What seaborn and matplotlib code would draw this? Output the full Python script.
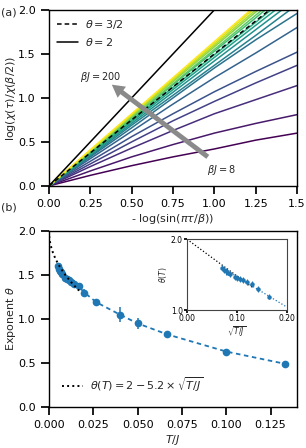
import numpy as np
import pandas as pd
import matplotlib
matplotlib.use("Agg")
import matplotlib.pyplot as plt
import seaborn as sns

# ---------------- data ----------------
# panel (a): curves read at these x positions
x_grid = [0.0, 0.25, 0.5, 0.75, 1.0, 1.25, 1.5]
chi_curves = [
    [0, 0.12, 0.23, 0.33, 0.42, 0.52, 0.60],
    [0, 0.17, 0.33, 0.47, 0.60, 0.71, 0.81],
    [0, 0.22, 0.43, 0.63, 0.82, 0.98, 1.14],
    [0, 0.25, 0.50, 0.74, 0.96, 1.17, 1.37],
    [0, 0.28, 0.56, 0.82, 1.07, 1.30, 1.52],
    [0, 0.31, 0.62, 0.93, 1.23, 1.51, 1.80],
    [0, 0.33, 0.66, 1.00, 1.34, 1.66, 1.96],
    [0, 0.34, 0.69, 1.03, 1.37, 1.71, 2.06],
    [0, 0.355, 0.71, 1.065, 1.42, 1.775, 2.13],
    [0, 0.365, 0.73, 1.095, 1.46, 1.825, 2.19],
    [0, 0.37, 0.745, 1.12, 1.49, 1.86, 2.24],
    [0, 0.38, 0.765, 1.15, 1.53, 1.91, 2.30],
    [0, 0.39, 0.775, 1.16, 1.55, 1.94, 2.33],
    [0, 0.395, 0.79, 1.185, 1.58, 1.975, 2.37],
    [0, 0.40, 0.80, 1.20, 1.60, 2.00, 2.40],
    [0, 0.405, 0.81, 1.215, 1.62, 2.03, 2.43],
    [0, 0.41, 0.82, 1.23, 1.64, 2.05, 2.46],
]
theta_refs = [1.5, 2.0]
theta_ref_labels = [r"$\theta = 3/2$", r"$\theta = 2$"]

# panel (b)
T_over_J = [0.0050, 0.0055, 0.0062, 0.0067, 0.0075, 0.0091, 0.0100, 0.0111,
            0.0125, 0.0143, 0.0167, 0.0200, 0.0267, 0.0400, 0.0500, 0.0667,
            0.1000, 0.1333]
theta_vals = [1.60, 1.57, 1.55, 1.53, 1.51, 1.47, 1.45, 1.44,
              1.42, 1.40, 1.37, 1.30, 1.19, 1.05, 0.95, 0.825,
              0.63, 0.49]
theta_err = [0.04, 0.04, 0.05, 0.04, 0.04, 0.04, 0.04, 0.04,
             0.04, 0.04, 0.04, 0.04, 0.04, 0.09, 0.06, 0.02,
             0.02, 0.01]
fit_a, fit_b = 2.0, 5.2
fit_T_max = 0.017
n_inset = 13
inset_trend_s = [0.07, 0.20]
inset_trend_theta = [1.60, 1.04]

# ---------------- style ----------------
sns.set_theme(style="ticks")
plt.rcParams["font.family"] = ["DejaVu Sans"]
plt.rcParams.update({
    "font.size": 8, "axes.labelsize": 8, "xtick.labelsize": 8,
    "ytick.labelsize": 8, "legend.fontsize": 8,
    "mathtext.fontset": "dejavusans",
    "axes.edgecolor": "black", "xtick.color": "black", "ytick.color": "black",
    "axes.linewidth": 1.0,
})
blue = "#1f77b4"

fig = plt.figure(figsize=(3.06, 4.48), dpi=100)
ax1 = fig.add_axes([0.160, 0.585, 0.811, 0.393])
ax2 = fig.add_axes([0.160, 0.0915, 0.811, 0.393])

# ---------------- panel (a) ----------------
rows = []
for i, c in enumerate(chi_curves):
    for xv, yv in zip(x_grid, c):
        rows.append({"x": xv, "y": yv, "curve": i})
df_a = pd.DataFrame(rows)
sns.lineplot(data=df_a, x="x", y="y", hue="curve", palette="viridis",
             estimator=None, sort=False, legend=False, lw=1.1, ax=ax1)

xr = np.array([0.0, 1.5])
ax1.plot(xr, theta_refs[0] * xr, color="black", ls="--", dashes=(3, 2),
         lw=1.1, label=theta_ref_labels[0], zorder=5)
ax1.plot(xr, theta_refs[1] * xr, color="black", ls="-", lw=1.1,
         label=theta_ref_labels[1], zorder=5)
ax1.legend(loc="upper left", frameon=False, handlelength=1.9,
           handletextpad=0.6, borderaxespad=0.3)

ax1.annotate("", xy=(0.38, 1.15), xytext=(0.96, 0.33),
             arrowprops=dict(facecolor="#8a8a8a", edgecolor="none",
                             width=3.5, headwidth=10, headlength=9),
             zorder=6)
ax1.text(0.31, 1.24, r"$\beta J = 200$", ha="center", va="center",
         fontsize=7)
ax1.text(1.04, 0.18, r"$\beta J = 8$", ha="center", va="center", fontsize=7)

ax1.set_xlim(0, 1.5)
ax1.set_ylim(0, 2.0)
ax1.set_xticks([0, 0.25, 0.5, 0.75, 1.0, 1.25, 1.5])
ax1.set_xticklabels(["0.00", "0.25", "0.50", "0.75", "1.00", "1.25", "1.5"])
ax1.set_yticks([0, 0.5, 1.0, 1.5, 2.0])
ax1.set_xlabel(r"- log(sin($\pi\tau/\beta$))", labelpad=2)
ax1.set_ylabel(r"log($\chi(\tau)/\chi(\beta/2)$)")
ax1.yaxis.set_label_coords(-0.125, 0.5)

# ---------------- panel (b) ----------------
sns.lineplot(x=T_over_J, y=theta_vals, ax=ax2, color=blue, lw=1.3,
             linestyle="--", dashes=False)
ax2.lines[-1].set_dashes((2.5, 2))
ax2.errorbar(T_over_J, theta_vals, yerr=theta_err, fmt="o", color=blue,
             ms=4.5, elinewidth=1.1, capsize=0, zorder=4)
T_fit = np.linspace(0, fit_T_max, 200)
ax2.plot(T_fit, fit_a - fit_b * np.sqrt(T_fit), color="black", ls=":",
         lw=1.4, label=r"$\theta(T) = 2 - 5.2 \times \sqrt{T/J}$", zorder=5)
ax2.legend(loc="lower left", frameon=False, handlelength=1.9,
           handletextpad=0.6, borderaxespad=0.8)
ax2.set_xlim(0, 0.14)
ax2.set_ylim(0, 2.0)
ax2.set_xticks([0, 0.025, 0.05, 0.075, 0.1, 0.125])
ax2.set_xticklabels(["0.000", "0.025", "0.050", "0.075", "0.100", "0.125"])
ax2.set_yticks([0, 0.5, 1.0, 1.5, 2.0])
ax2.set_xlabel(r"$T/J$", labelpad=2)
ax2.set_ylabel(r"Exponent $\theta$")
ax2.yaxis.set_label_coords(-0.125, 0.5)

# ---------------- inset ----------------
ax3 = fig.add_axes([0.611, 0.308, 0.327, 0.158])
s_pts = np.sqrt(np.array(T_over_J[:n_inset]))
s_fit = np.linspace(0, 0.13, 50)
ax3.plot(s_fit, fit_a - fit_b * s_fit, color="black", ls=":", lw=0.9)
ax3.plot(inset_trend_s, inset_trend_theta, color=blue, ls=":", lw=0.9)
ax3.errorbar(s_pts, theta_vals[:n_inset], yerr=theta_err[:n_inset], fmt="o",
             color=blue, ms=2.2, elinewidth=0.8, capsize=0)
ax3.set_xlim(0, 0.2)
ax3.set_ylim(1.0, 2.0)
ax3.set_xticks([0, 0.1, 0.2])
ax3.set_xticklabels(["0.00", "0.10", "0.20"])
ax3.set_yticks([1.0, 2.0])
ax3.set_yticklabels(["1.0", "2.0"])
ax3.tick_params(labelsize=5.5, length=2, pad=1)
ax3.set_xlabel(r"$\sqrt{T/J}$", fontsize=5.5, labelpad=1)
ax3.set_ylabel(r"$\theta(T)$", fontsize=5.5, labelpad=1)
for sp in ax3.spines.values():
    sp.set_linewidth(0.8)
    sp.set_edgecolor("#444444")

fig.text(0.03, 0.972, "(a)", ha="center", va="center", fontsize=8)
fig.text(0.03, 0.537, "(b)", ha="center", va="center", fontsize=8)

fig.savefig("out.png", dpi=100)
